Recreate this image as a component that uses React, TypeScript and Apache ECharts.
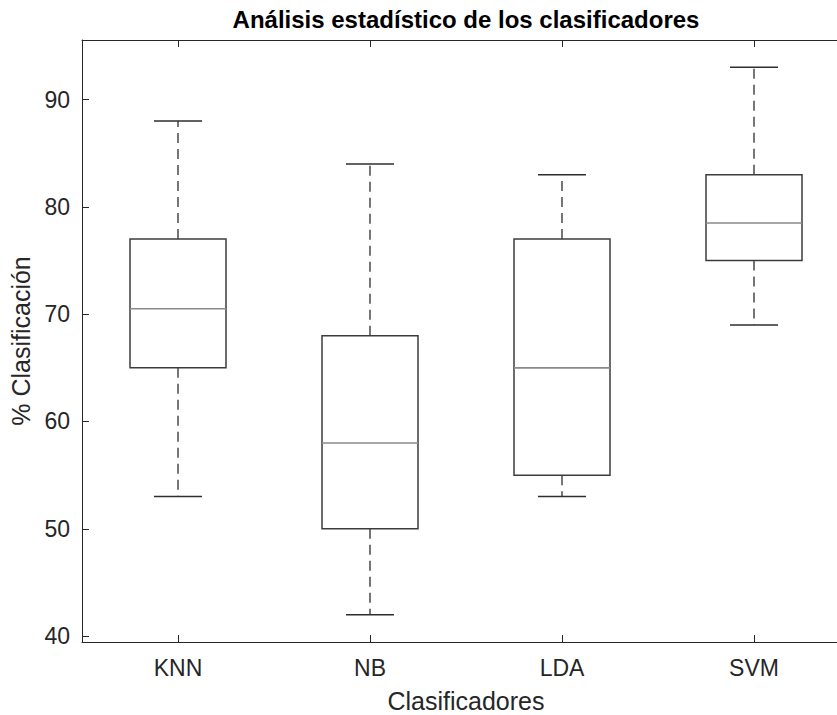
import React, { useEffect, useRef } from "react";
import * as echarts from "echarts";

const categories = ["KNN", "NB", "LDA", "SVM"];
const lowerWhisker = [53, 42, 53, 69];
const q1 = [65, 50, 55, 75];
const medians = [70.5, 58, 65, 78.5];
const q3 = [77, 68, 77, 83];
const upperWhisker = [88, 84, 83, 93];

const yMin = 39.45;
const yMax = 95.55;

const TEXT = "#262626";
const FONT = "'Liberation Sans', Arial, Helvetica, sans-serif";

export default function App() {
  const ref = useRef<HTMLDivElement>(null);
  useEffect(() => {
    if (!ref.current) return;
    const chart = echarts.init(ref.current, undefined, { renderer: "svg" });
    const data = categories.map((_, i) => [
      i,
      lowerWhisker[i],
      q1[i],
      medians[i],
      q3[i],
      upperWhisker[i],
    ]);
    const option: any = {
      animation: false,
      backgroundColor: "#ffffff",
      textStyle: { fontFamily: FONT },
      grid: {
        left: 82,
        top: 40,
        width: 768,
        height: 602,
        outerBoundsMode: "none",
        containLabel: false,
      },
      graphic: [
        {
          type: "text",
          x: 466,
          y: 19,
          style: {
            text: "Análisis estadístico de los clasificadores",
            fontFamily: FONT,
            fontWeight: "bold",
            fontSize: 24,
            fill: "#000000",
            textAlign: "center",
            textVerticalAlign: "middle",
          },
        },
      ],
      xAxis: [
        {
          type: "category",
          data: categories,
          position: "bottom",
          boundaryGap: true,
          name: "Clasificadores",
          nameLocation: "middle",
          nameGap: 46,
          nameTextStyle: { fontSize: 25, color: TEXT, fontFamily: FONT },
          axisLine: { show: true, lineStyle: { color: TEXT, width: 1 } },
          axisTick: { show: true, inside: true, alignWithLabel: true, length: 7, lineStyle: { color: TEXT } },
          axisLabel: { show: true, fontSize: 23, color: TEXT, margin: 14, fontFamily: FONT },
          splitLine: { show: false },
        },
        {
          type: "category",
          data: categories,
          position: "top",
          boundaryGap: true,
          axisLine: { show: true, lineStyle: { color: TEXT, width: 1 } },
          axisTick: { show: true, inside: true, alignWithLabel: true, length: 7, lineStyle: { color: TEXT } },
          axisLabel: { show: false },
          splitLine: { show: false },
        },
      ],
      yAxis: [
        {
          type: "value",
          min: yMin,
          max: yMax,
          splitNumber: 5,
          name: "% Clasificación",
          nameLocation: "middle",
          nameGap: 49,
          nameTextStyle: { fontSize: 25, color: TEXT, fontFamily: FONT },
          axisLine: { show: true, lineStyle: { color: TEXT, width: 1 } },
          axisTick: { show: true, inside: true, length: 7, lineStyle: { color: TEXT } },
          axisLabel: {
            show: true,
            fontSize: 23,
            color: TEXT,
            margin: 12,
            fontFamily: FONT,
            showMinLabel: false,
            showMaxLabel: false,
          },
          splitLine: { show: false },
        },
      ],
      series: [
        {
          type: "custom",
          xAxisIndex: 0,
          yAxisIndex: 0,
          data,
          renderItem: (params: any, api: any) => {
            const i = api.value(0);
            const lo = api.coord([i, api.value(1)]);
            const b1 = api.coord([i, api.value(2)]);
            const md = api.coord([i, api.value(3)]);
            const b3 = api.coord([i, api.value(4)]);
            const hi = api.coord([i, api.value(5)]);
            const band = api.size([1, 0])[0];
            const bw = band * 0.5;
            const cw = band * 0.25;
            const cx = lo[0];
            const dashStyle = { stroke: "#4a4a4a", lineWidth: 1.5, lineDash: [10, 6] };
            const solid = { stroke: "#2e2e2e", lineWidth: 1.5 };
            return {
              type: "group",
              children: [
                { type: "line", shape: { x1: cx, y1: b3[1], x2: cx, y2: hi[1] }, style: dashStyle },
                { type: "line", shape: { x1: cx, y1: b1[1], x2: cx, y2: lo[1] }, style: dashStyle },
                { type: "line", shape: { x1: cx - cw / 2, y1: hi[1], x2: cx + cw / 2, y2: hi[1] }, style: solid },
                { type: "line", shape: { x1: cx - cw / 2, y1: lo[1], x2: cx + cw / 2, y2: lo[1] }, style: solid },
                {
                  type: "rect",
                  shape: { x: cx - bw / 2, y: b3[1], width: bw, height: b1[1] - b3[1] },
                  style: { fill: "none", stroke: "#3c3c3c", lineWidth: 1.5 },
                },
                {
                  type: "line",
                  shape: { x1: cx - bw / 2, y1: md[1], x2: cx + bw / 2, y2: md[1] },
                  style: { stroke: "#8a8a8a", lineWidth: 1.6 },
                },
              ],
            };
          },
        },
      ],
    };
    chart.setOption(option);
    return () => chart.dispose();
  }, []);
  return (
    <div
      ref={ref}
      style={{ position: "fixed", left: 0, top: 0, width: 837, height: 715, background: "#fff" }}
    />
  );
}
